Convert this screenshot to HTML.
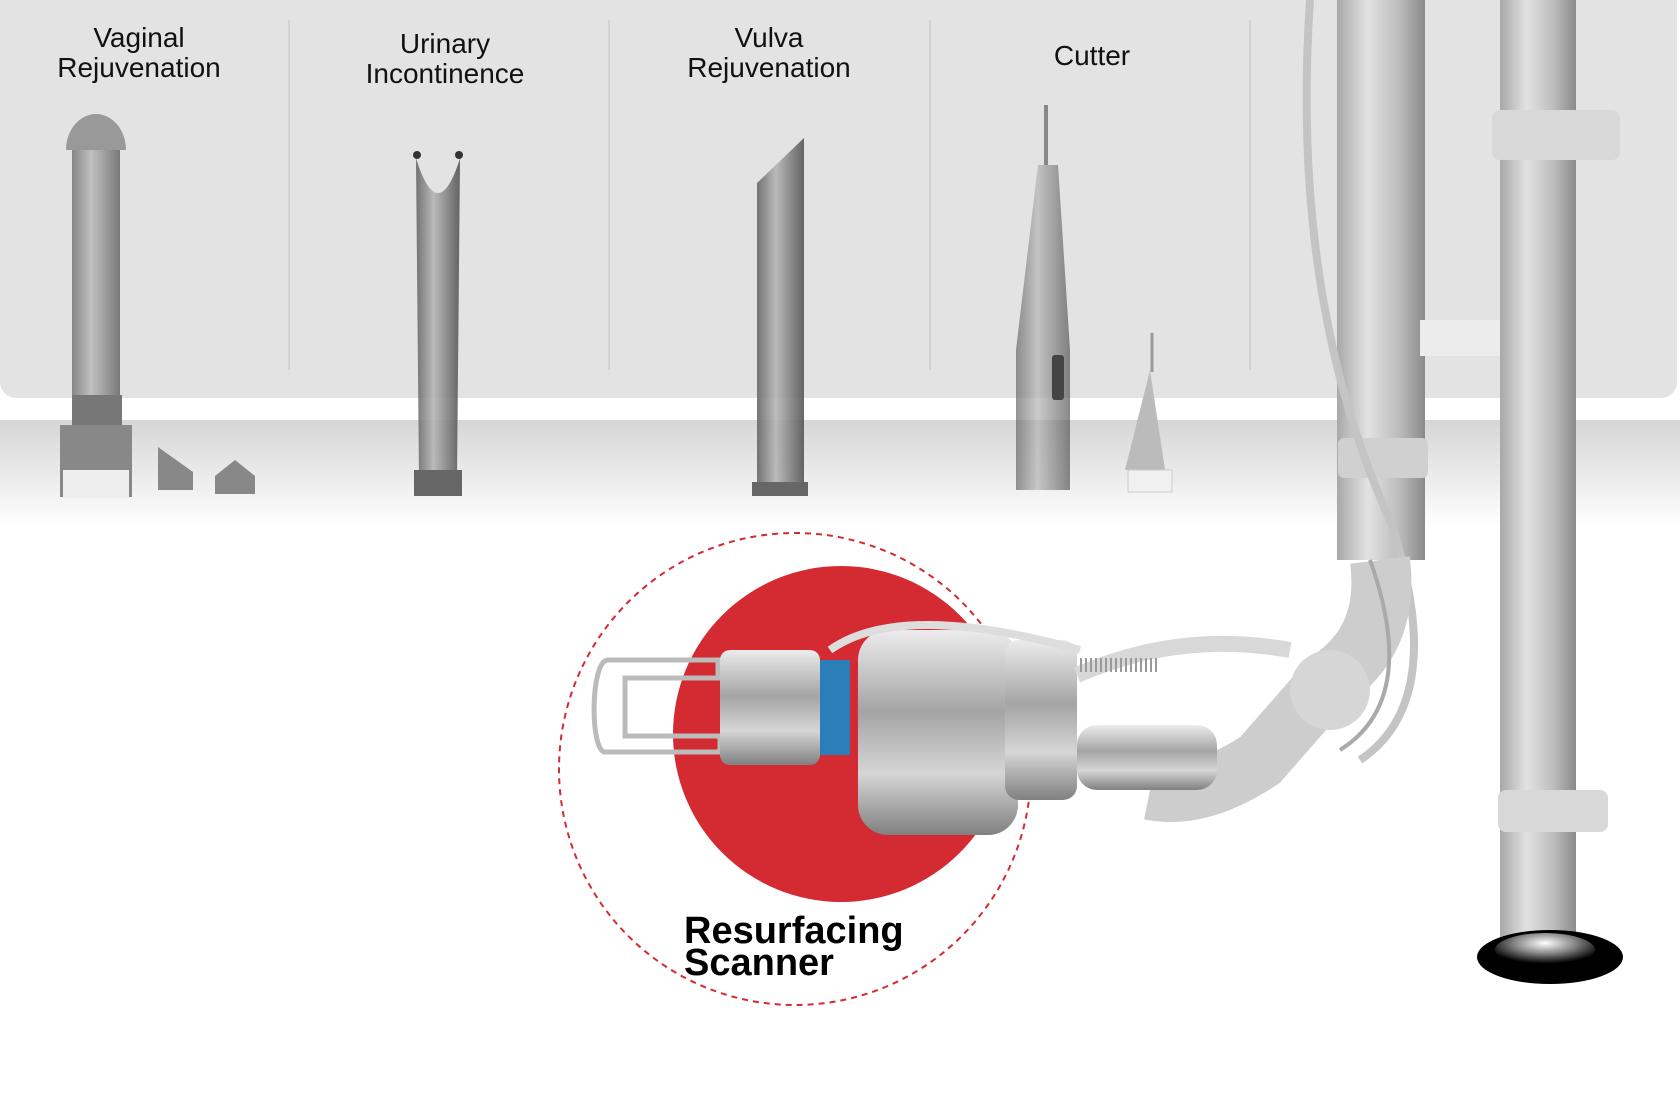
<!DOCTYPE html>
<html><head><meta charset="utf-8"><style>
html,body{margin:0;padding:0;background:#fff;}
svg{display:block}
text{font-family:"Liberation Sans",sans-serif}
</style></head><body>
<svg width="1680" height="1100" viewBox="0 0 1680 1100" xmlns="http://www.w3.org/2000/svg">
<defs>
<linearGradient id="band" x1="0" y1="0" x2="0" y2="1"><stop offset="0" stop-color="#d6d6d6"/><stop offset="1" stop-color="#ffffff"/></linearGradient>
<linearGradient id="pole" x1="0" y1="0" x2="1" y2="0"><stop offset="0" stop-color="#a8a8a8"/><stop offset="0.35" stop-color="#e2e2e2"/><stop offset="0.7" stop-color="#bdbdbd"/><stop offset="1" stop-color="#8a8a8a"/></linearGradient>
<linearGradient id="tip" x1="0" y1="0" x2="1" y2="0"><stop offset="0" stop-color="#666"/><stop offset="0.4" stop-color="#b5b5b5"/><stop offset="1" stop-color="#555"/></linearGradient>
<linearGradient id="metal" x1="0" y1="0" x2="0" y2="1"><stop offset="0" stop-color="#ececec"/><stop offset="0.4" stop-color="#a4a4a4"/><stop offset="0.7" stop-color="#d6d6d6"/><stop offset="1" stop-color="#808080"/></linearGradient>
<radialGradient id="base" cx="0.5" cy="0.3" r="0.6"><stop offset="0" stop-color="#fff"/><stop offset="0.5" stop-color="#888"/><stop offset="1" stop-color="#000"/></radialGradient>
</defs>
<rect x="0" y="420" width="1680" height="108" fill="url(#band)"/>
<path d="M0 0H1677V382a16 16 0 0 1-16 16H16a16 16 0 0 1-16-16Z" fill="#e3e3e3"/>
<g stroke="#d2d2d2" stroke-width="2">
<line x1="289" y1="20" x2="289" y2="370"/><line x1="609" y1="20" x2="609" y2="370"/><line x1="930" y1="20" x2="930" y2="370"/><line x1="1250" y1="20" x2="1250" y2="370"/>
</g>
<g font-size="28" fill="#111" text-anchor="middle">
<text x="139" y="47">Vaginal</text><text x="139" y="77">Rejuvenation</text>
<text x="445" y="53">Urinary</text><text x="445" y="83">Incontinence</text>
<text x="769" y="47">Vulva</text><text x="769" y="77">Rejuvenation</text>
<text x="1092" y="65">Cutter</text>
</g>
<!-- vaginal tip -->
<rect x="72" y="150" width="48" height="250" fill="url(#tip)" opacity="0.75"/>
<path d="M66 150a30 36 0 0 1 60 0z" fill="#999"/>
<rect x="72" y="395" width="50" height="30" fill="#777"/>
<rect x="60" y="425" width="72" height="72" fill="#888"/>
<rect x="63" y="470" width="66" height="28" fill="#eee"/>
<path d="M158 447l35 25v18h-35z" fill="#888"/><path d="M215 476l20-16 20 16v18h-40z" fill="#888"/>
<!-- urinary -->
<path d="M416 158q22 70 44 0l-3 320h-38z" fill="url(#tip)" opacity="0.9"/><path d="M416 158q22 70 44 0" fill="#e3e3e3"/>
<circle cx="417" cy="155" r="4" fill="#333"/><circle cx="459" cy="155" r="4" fill="#333"/>
<rect x="414" y="470" width="48" height="26" fill="#666"/>
<!-- vulva -->
<path d="M757 183l47-45v355h-47z" fill="url(#tip)" opacity="0.9"/><rect x="752" y="482" width="56" height="14" fill="#666"/>
<!-- cutter -->
<rect x="1044" y="105" width="4" height="60" fill="#888"/>
<path d="M1038 165h20l12 185v140h-54v-140z" fill="url(#tip)" opacity="0.7"/>
<rect x="1052" y="355" width="12" height="45" rx="3" fill="#444"/>
<path d="M1150 370l15 100h-40z" fill="#bbb"/><rect x="1128" y="470" width="44" height="22" fill="#f0f0f0" stroke="#ccc"/>
<line x1="1152" y1="333" x2="1152" y2="372" stroke="#999" stroke-width="3"/>
<!-- poles -->
<rect x="1500" y="0" width="76" height="945" fill="url(#pole)"/>
<ellipse cx="1550" cy="957" rx="73" ry="27" fill="#000"/>
<ellipse cx="1545" cy="950" rx="50" ry="17" fill="url(#base)"/>
<rect x="1337" y="0" width="88" height="560" fill="url(#pole)"/>
<rect x="1492" y="110" width="128" height="50" rx="8" fill="#d8d8d8"/>
<rect x="1498" y="790" width="110" height="42" rx="8" fill="#d8d8d8"/>
<rect x="1338" y="438" width="90" height="40" rx="6" fill="#d0d0d0"/>
<rect x="1420" y="320" width="80" height="36" fill="#ececec"/>
<path d="M1310 0 Q1290 300 1390 520 Q1450 700 1360 760" fill="none" stroke="#c4c4c4" stroke-width="8"/>
<path d="M1380 560 Q1390 640 1330 680 L1260 760 Q1200 800 1150 790" fill="none" stroke="#cdcdcd" stroke-width="60"/>
<circle cx="1330" cy="690" r="40" fill="#d6d6d6"/>
<path d="M1370 560 Q1420 700 1340 750" fill="none" stroke="#aaa" stroke-width="4"/>
<!-- scanner -->
<ellipse cx="841" cy="734" rx="168" ry="168" fill="#d42a32"/>
<circle cx="795" cy="769" r="236" fill="none" stroke="#d42a32" stroke-width="2" stroke-dasharray="6 5"/>
<path d="M608 660h110v18H625v58h95v16H605c-15 0-15-92 3-92z" fill="none" stroke="#bbb" stroke-width="5"/>
<rect x="720" y="650" width="100" height="115" rx="10" fill="url(#metal)"/>
<rect x="820" y="660" width="30" height="95" fill="#2a7fb8"/>
<rect x="858" y="630" width="160" height="205" rx="30" fill="url(#metal)"/>
<rect x="1005" y="640" width="72" height="160" rx="14" fill="url(#metal)"/>
<rect x="1077" y="725" width="140" height="65" rx="20" fill="url(#metal)"/>
<path d="M1077 675 Q1180 630 1290 650" fill="none" stroke="#d8d8d8" stroke-width="16"/>
<path d="M1080 665h80" stroke="#999" stroke-width="14" stroke-dasharray="2 3"/>
<path d="M830 650 Q900 600 1080 650" fill="none" stroke="#ddd" stroke-width="8"/>
<g font-size="38" font-weight="bold" fill="#000">
<text x="684" y="943">Resurfacing</text><text x="684" y="975">Scanner</text>
</g>
</svg>
</body></html>
